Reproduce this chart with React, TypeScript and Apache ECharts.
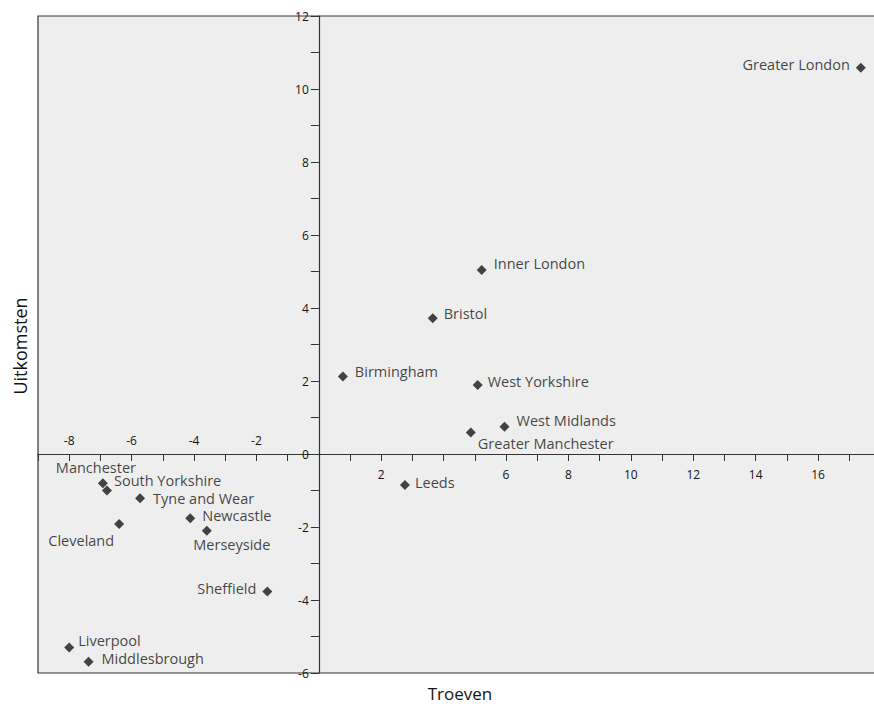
import React, { useEffect, useRef } from 'react';
import * as echarts from 'echarts';

const regions = ['Greater London', 'Inner London', 'Bristol', 'Birmingham', 'West Yorkshire', 'West Midlands', 'Greater Manchester', 'Leeds', 'Manchester', 'South Yorkshire', 'Tyne and Wear', 'Newcastle', 'Merseyside', 'Cleveland', 'Sheffield', 'Liverpool', 'Middlesbrough'];
const troeven = [17.37, 5.22, 3.65, 0.77, 5.09, 5.95, 4.87, 2.76, -6.92, -6.79, -5.73, -4.12, -3.59, -6.4, -1.65, -8.0, -7.38];
const uitkomsten = [10.58, 5.04, 3.72, 2.12, 1.89, 0.75, 0.59, -0.85, -0.8, -1.0, -1.21, -1.76, -2.1, -1.92, -3.77, -5.3, -5.69];
const xPositiveLabels = [2, 6, 8, 10, 12, 14, 16];
const xNegativeLabels = [-8, -6, -4, -2];
const yLabels = [-6, -4, -2, 0, 2, 4, 6, 8, 10, 12];
const xTitle = 'Troeven';
const yTitle = 'Uitkomsten';

const X_MIN = -9;
const X_MAX = 18;
const Y_MIN = -6;
const Y_MAX = 12;

// label placement (layout only)
const labelLayout: Record<string, { position: string; offset: [number, number] }> = {
  'Greater London': { position: 'left', offset: [-1, -3] },
  'Inner London': { position: 'right', offset: [2, -7] },
  'Bristol': { position: 'right', offset: [1, -5] },
  'Birmingham': { position: 'right', offset: [2, -5] },
  'West Yorkshire': { position: 'right', offset: [0, -4] },
  'West Midlands': { position: 'right', offset: [2, -6] },
  'Greater Manchester': { position: 'right', offset: [-3, 11] },
  'Leeds': { position: 'right', offset: [0, -3] },
  'Manchester': { position: 'top', offset: [-7, 1] },
  'South Yorkshire': { position: 'right', offset: [-3, -10] },
  'Tyne and Wear': { position: 'right', offset: [3, 0] },
  'Newcastle': { position: 'right', offset: [2, -3] },
  'Merseyside': { position: 'bottom', offset: [25, -3] },
  'Cleveland': { position: 'left', offset: [5, 16] },
  'Sheffield': { position: 'left', offset: [-1, -3] },
  'Liverpool': { position: 'right', offset: [-1, -7] },
  'Middlesbrough': { position: 'right', offset: [3, -3] },
};

const FONT = '"Open Sans", "DejaVu Sans", sans-serif';
const TXT = '#141414';
const inList = (list: number[], v: number) => list.some((l) => Math.abs(l - v) < 1e-6);

// grid geometry (px)
const W = 874;
const H = 706;
const G_LEFT = 38;
const G_TOP = 16;
const G_RIGHT = -6.5;
const G_BOTTOM = 33;

export default function App() {
  const ref = useRef<HTMLDivElement>(null);
  useEffect(() => {
    if (!ref.current) return;
    const chart = echarts.init(ref.current, null, { renderer: 'svg' });
    const gW = W - G_LEFT - G_RIGHT;
    const gH = H - G_TOP - G_BOTTOM;
    // place axes through the origin via offsets
    const yAxisOffset = -((0 - X_MIN) / (X_MAX - X_MIN)) * gW;
    const xAxisOffset = -((0 - Y_MIN) / (Y_MAX - Y_MIN)) * gH;
    const data = regions.map((name, i) => ({
      name,
      value: [troeven[i], uitkomsten[i]],
      label: {
        show: true,
        position: labelLayout[name].position as any,
        offset: labelLayout[name].offset,
        distance: 5,
        formatter: name,
      },
    }));
    const xCommon = {
      type: 'value' as const,
      min: X_MIN,
      max: X_MAX,
      interval: 1,
      position: 'bottom' as const,
      offset: xAxisOffset,
      splitLine: { show: false },
    };
    chart.setOption({
      animation: false,
      backgroundColor: '#ffffff',
      grid: {
        left: G_LEFT,
        top: G_TOP,
        right: G_RIGHT,
        bottom: G_BOTTOM,
        show: true,
        backgroundColor: '#eeeeee',
        borderColor: '#333',
        borderWidth: 1.2,
        outerBoundsMode: 'none',
        containLabel: false,
      },
      xAxis: [
        {
          ...xCommon,
          axisLine: { show: true, onZero: false, lineStyle: { color: '#333', width: 1.2 } },
          axisTick: { show: true, inside: false, length: 7, lineStyle: { color: '#333' } },
          axisLabel: {
            show: true,
            interval: 0,
            margin: 14,
            color: TXT,
            fontSize: 12,
            fontFamily: FONT,
            formatter: (v: number) => (inList(xPositiveLabels, v) ? String(v) : ''),
          },
        },
        {
          ...xCommon,
          axisLine: { show: false, onZero: false },
          axisTick: { show: false },
          axisLabel: {
            show: true,
            inside: true,
            interval: 0,
            margin: 8,
            color: TXT,
            fontSize: 12,
            fontFamily: FONT,
            formatter: (v: number) => (inList(xNegativeLabels, v) ? String(v) : ''),
          },
        },
      ],
      yAxis: {
        type: 'value',
        min: Y_MIN,
        max: Y_MAX,
        interval: 1,
        position: 'left',
        offset: yAxisOffset,
        splitLine: { show: false },
        axisLine: { show: true, onZero: false, lineStyle: { color: '#333', width: 1.2 } },
        axisTick: { show: true, inside: false, length: 8, lineStyle: { color: '#333' } },
        axisLabel: {
          show: true,
          interval: 0,
          margin: 10,
          color: TXT,
          fontSize: 12,
          fontFamily: FONT,
          formatter: (v: number) => (inList(yLabels, v) ? String(v) : ''),
        },
      },
      series: [
        {
          type: 'scatter',
          xAxisIndex: 0,
          yAxisIndex: 0,
          symbol: 'diamond',
          symbolSize: 10,
          itemStyle: { color: '#161616' },
          label: { color: TXT, fontSize: 14.5, lineHeight: 14, fontFamily: FONT },
          data,
        },
      ],
      graphic: [
        {
          type: 'text',
          x: 20,
          y: 346,
          rotation: Math.PI / 2,
          style: {
            text: yTitle,
            align: 'center',
            verticalAlign: 'middle',
            fill: TXT,
            font: `18px ${FONT}`,
          },
        },
        {
          type: 'text',
          x: 460,
          y: 693,
          style: {
            text: xTitle,
            align: 'center',
            verticalAlign: 'middle',
            fill: TXT,
            font: `17px ${FONT}`,
          },
        },
      ],
    });
    return () => chart.dispose();
  }, []);
  return (
    <div
      ref={ref}
      style={{ position: 'fixed', left: 0, top: 0, width: W, height: H }}
    />
  );
}
